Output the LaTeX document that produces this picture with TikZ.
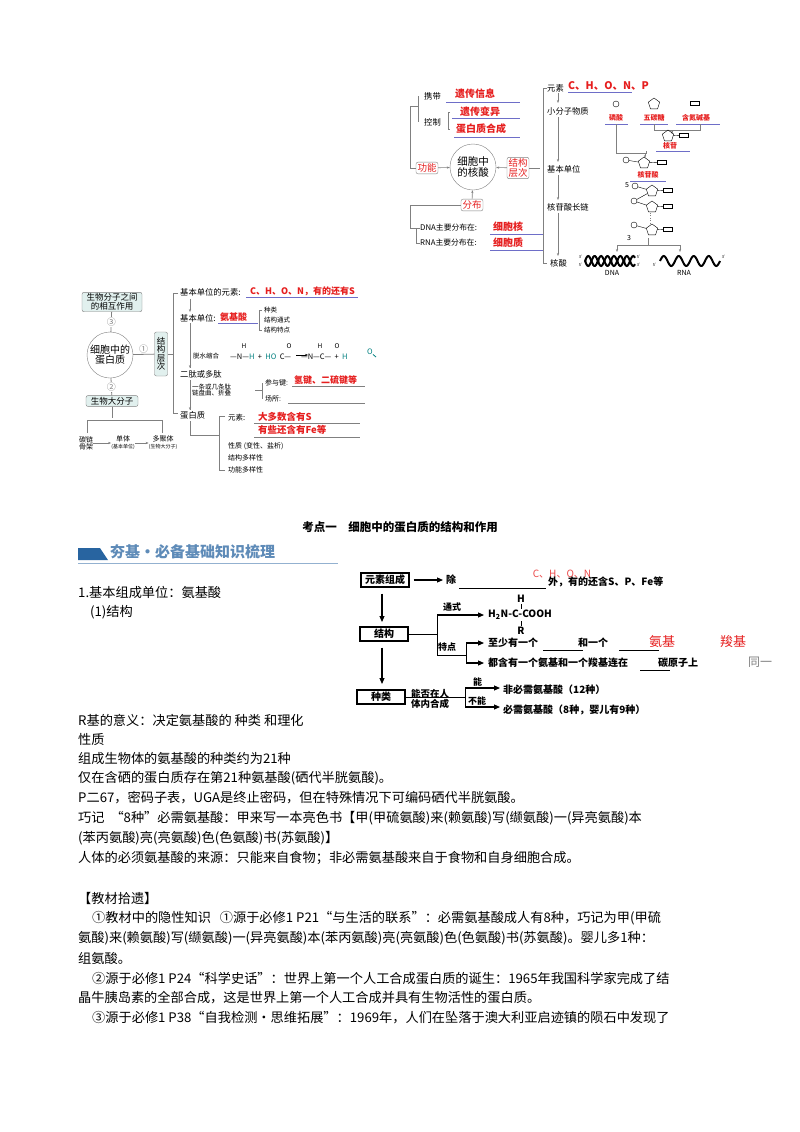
\documentclass[tikz,border=0pt]{standalone}
\usepackage{fontspec}
\setmainfont{Noto Sans CJK SC}
\usetikzlibrary{shapes.geometric,arrows.meta}
\definecolor{ans}{RGB}{230,30,30}
\definecolor{uline}{RGB}{110,110,200}
\definecolor{boxfill}{RGB}{225,240,238}
\definecolor{hdr}{RGB}{40,100,160}
\newcommand{\fs}[1]{\fontsize{#1}{#1}\selectfont}
\tikzset{
 t/.style={inner sep=0pt,anchor=west,font=\fs{8.3}},
 red/.style={inner sep=0pt,anchor=west,text=ans,font=\fs{9}\bfseries},
 body/.style={inner sep=0pt,anchor=west,font=\fs{13.2}},
 flow/.style={inner sep=0pt,anchor=west,font=\fs{10}\bfseries},
 fbox/.style={draw,line width=1.2pt,minimum width=48,minimum height=14,inner sep=0pt,font=\fs{10}\bfseries},
 rbox/.style={draw=gray,rounded corners=2pt,text=ans,inner sep=1.5pt,font=\fs{9.5}},
 gbox/.style={draw=gray,rounded corners=2pt,fill=boxfill,inner sep=1.5pt,font=\fs{8.5},align=center},
 ul/.style={uline,line width=0.6pt},
 gl/.style={gray,line width=0.6pt},
 ar/.style={gray,line width=0.6pt,-{Stealth[length=3pt]}},
 far/.style={line width=1.1pt,-{Triangle[length=6pt,width=5pt]}},
 ph/.style={circle,draw,inner sep=0pt,minimum size=6pt},
 sug/.style={regular polygon,regular polygon sides=5,draw,inner sep=0pt,minimum size=12pt},
 bas/.style={rectangle,draw,inner sep=0pt,minimum width=9pt,minimum height=4.5pt},
 ml/.style={text=ans,font=\fs{7}\bfseries,anchor=center,inner sep=0pt}
}
\begin{document}
\begin{tikzpicture}[x=1pt,y=-1pt]
\useasboundingbox[fill=white] (0,0) rectangle (800,1132);
%% ===== Top-right nucleic acid diagram =====
\node[circle,draw=gray,minimum size=46pt,inner sep=0pt,align=center,font=\fs{10.5}] (na) at (473,167) {细胞中\\的核酸};
\node[rbox] (gn) at (427,168) {功能};
\node[rbox,align=center] (jg) at (518,168) {结构\\层次};
\node[rbox] (fb) at (472,205) {分布};
\draw[ar] (gn) -- (na);
\draw[ar] (jg) -- (na);
\draw[ar] (fb) -- (na);
\draw[gl] (gn.west) -- (410,168) -- (410,106) -- (418,106);
\draw[gl] (418,96) -- (418,122);
\node[t] (xd) at (424,96) {携带};
\node[t] (kz) at (424,122) {控制};
\node[red,font=\fs{10}\bfseries] (a1) at (455,94) {遗传信息};
\draw[ul] (446,102) -- (520,102);
\draw[gl] (450,112) -- (448,112) -- (448,129) -- (450,129);
\node[red,font=\fs{10}\bfseries] (a2) at (460,112) {遗传变异};
\draw[ul] (452,118) -- (520,118);
\node[red,font=\fs{10}\bfseries] (a3) at (456,129) {蛋白质合成};
\draw[ul] (454,137) -- (520,137);
\draw[gl] (fb.west) -- (410,205) -- (410,228) ;
\node[t,font=\fs{7.8}] (dna) at (420,228) {DNA主要分布在:};
\node[t,font=\fs{7.8}] (rna) at (420,243) {RNA主要分布在:};
\draw[gl] (416,228) -- (416,243);
\draw[gl] (410,228) -- (dna.west); \draw[gl] (416,243) -- (rna.west);
\node[red,font=\fs{10}\bfseries] (a4) at (493,227) {细胞核};
\draw[ul] (490,234) -- (544,234);
\node[red,font=\fs{10}\bfseries] (a5) at (493,243) {细胞质};
\draw[ul] (490,250) -- (544,250);
% right column
\draw[gl] (jg.east) -- (540,168);
\draw[gl] (547,88) -- (543,88) -- (543,263) -- (547,263);
\node[t] (ys) at (547,88) {元素};
\node[red,font=\fs{10.5}\bfseries] (a6) at (568,86) {C、H、O、N、P};
\draw[ul] (568,92) -- (632,92);
\node[t] (xf) at (547,111) {小分子物质};
\node[t] (jb) at (547,169) {基本单位};
\node[t] (hl) at (547,207) {核苷酸长链};
\node[t] (hs) at (550,263) {核酸};
\draw[ar] (558,93) -- (558,103);
\draw[ar] (558,117) -- (558,162);
\draw[ar] (558,175) -- (558,200);
\draw[ar] (558,213) -- (558,256);
% molecules
\node[ph] (p1) at (616,104) {};
\node[sug] (s1) at (654,104) {};
\node[bas] (b1) at (695,103) {};
\node[ml] (l1) at (616,118) {磷酸};
\node[ml] (l2) at (654,118) {五碳糖};
\node[ml] (l3) at (696,118) {含氮碱基};
\draw[ul] (605,124) -- (628,124); \draw[ul] (640,124) -- (668,124); \draw[ul] (676,124) -- (720,124);
\draw[gl] (654,124) -- (654,130) -- (700,130) -- (700,124);
\draw[ar] (672,130) -- (672,134);
\node[sug] (s2) at (668,136) {}; \node[bas] (b2) at (684,135) {}; \draw (s2) -- (b2);
\node[ml] (l4) at (670,146) {核苷};
\draw[ul] (656,151) -- (690,151);
\draw[gl] (616,124) -- (616,153) -- (646,153) -- (646,151);
\draw[ar] (645,153) -- (645,158);
\node[ph] (p3) at (626,160) {}; \node[sug] (s3) at (644,163) {}; \node[bas] (b3) at (662,162) {};
\draw (p3) -- (s3) -- (b3);
\node[ml] (l5) at (648,175) {核苷酸};
\draw[ul] (630,181) -- (666,181);
\node[font=\fs{7},inner sep=0] (five) at (627,185) {5};
\node[ph] (p4) at (635,186) {}; \node[sug] (s4) at (652,191) {}; \node[bas] (b4) at (668,190) {};
\draw (p4) -- (s4) -- (b4);
\node[ph] (p5) at (634,201) {}; \node[sug] (s5) at (652,207) {}; \node[bas] (b5) at (668,206) {};
\draw (s4) -- (p5) -- (s5) -- (b5);
\draw[gray,dotted] (650,213) -- (650,225);
\node[ph] (p6) at (634,225) {}; \node[sug] (s6) at (652,230) {}; \node[bas] (b6) at (668,229) {};
\draw (p6) -- (s6) -- (b6);
\node[font=\fs{7},inner sep=0] (three) at (629,238) {3};
\draw[gl] (648,238) -- (648,245);
\draw[gl] (617,245) -- (680,245);
\draw[ar] (617,245) -- (617,252);
\draw[ar] (680,245) -- (680,252);
% DNA helix
\foreach \i in {0,...,6}{\draw[gray!70,line width=0.8pt] (586+\i*6.5,256) -- (586+\i*6.5,266);}
\draw[line width=2pt,domain=0:50,samples=60] plot ({585+\x},{261+5*sin(\x*28)});
\draw[line width=2pt,domain=0:50,samples=60] plot ({585+\x},{261-5*sin(\x*28)});
\node[font=\fs{7},inner sep=0] (dnal) at (612,273) {DNA};
\node[font=\fs{4},inner sep=0] (d1) at (582,257) {3'}; \node[font=\fs{4},inner sep=0] (d2) at (582,265) {5'};
\node[font=\fs{4},inner sep=0] (d3) at (640,257) {5'}; \node[font=\fs{4},inner sep=0] (d4) at (640,265) {3'};
\draw[line width=2pt,domain=0:60,samples=80] plot ({660+\x},{261-5*sin(\x*24)});
\node[font=\fs{7},inner sep=0] (rnal) at (684,273) {RNA};
\node[font=\fs{4},inner sep=0] (r1) at (656,265) {5'}; \node[font=\fs{4},inner sep=0] (r2) at (725,257) {3'};
%% ===== Left protein diagram =====
\node[gbox,minimum width=60pt] (sw) at (112,302) {生物分子之间\\的相互作用};
\node[circle,draw=gray,minimum size=46pt,inner sep=0pt,align=center,font=\fs{10}] (pr) at (110,355) {细胞中的\\蛋白质};
\node[gbox,minimum width=52pt] (dfz) at (112,401) {生物大分子};
\node[gbox,minimum height=44pt,text width=9pt,inner sep=2pt] (jc) at (161,354) {结\\构\\层\\次};
\draw[gray,line width=0.8pt] (sw) -- node[fill=white,font=\fs{9},inner sep=1pt]{③} (pr);
\draw[gray,line width=0.8pt] (pr) -- node[fill=white,font=\fs{9},inner sep=1pt]{②} (dfz);
\draw[gray,line width=0.8pt] (pr) -- node[above,font=\fs{9},inner sep=1pt]{①} (jc);
\draw[gl] (dfz.south) -- (112,418);
\draw[gl] (87,433) -- (87,420) -- (162,420) -- (162,433);
\node[font=\fs{7},align=center,inner sep=0] (tl) at (86,443) {碳链\\骨架};
\node[font=\fs{7},align=center,inner sep=0] (dt) at (123,443) {单体\\{\fs{5}(基本单位)}};
\node[font=\fs{7},align=center,inner sep=0] (dj) at (163,443) {多聚体\\{\fs{5}(生物大分子)}};
\draw[ar] (tl) -- (dt); \draw[ar] (dt) -- (dj);
\draw[gl] (jc.east) -- (173,354);
\draw[gl] (178,293) -- (173,293) -- (173,413) -- (178,413);
\node[t] (j1) at (180,292) {基本单位的元素:};
\node[red] (j1a) at (250,291) {C、H、O、N，有的还有S};
\draw[ul] (246,297) -- (358,297);
\node[t] (j2) at (180,318) {基本单位:};
\node[red] (j2a) at (220,317) {氨基酸};
\draw[ul] (218,323) -- (258,323);
\draw[gl] (262,310) -- (259,310) -- (259,330) -- (262,330);
\node[t,font=\fs{6.5}] (k1) at (264,310) {种类};
\node[t,font=\fs{6.5}] (k2) at (264,320) {结构通式};
\node[t,font=\fs{6.5}] (k3) at (264,330) {结构特点};
\draw[ar] (190,299) -- (190,312);
\draw[gl] (190,323) -- (190,368);
\draw[ar] (190,360) -- (190,368);
\node[t,font=\fs{6.5}] (ts) at (193,356) {脱水缩合};
\node[font=\fs{7.5},inner sep=0,anchor=west] (c1) at (230,357) {—N—{\color{teal}H}\ \ +\ \ {\color{teal}HO}\ \ C—\ \ \ \ \ \ —N—C—\ \ +\ \ {\color{teal}H}};
\node[font=\fs{6.5},inner sep=0] (c2) at (244,346) {H};
\node[font=\fs{6.5},inner sep=0] (c3) at (289,346) {O};
\node[font=\fs{6.5},inner sep=0] (c4) at (320,346) {H};
\node[font=\fs{6.5},inner sep=0] (c5) at (337,346) {O};
\draw[-{Stealth[length=3pt]}] (296,355) -- (308,355);
\node[font=\fs{7.5},inner sep=0,text=teal] (c6) at (370,352) {O};
\draw[teal,line width=0.8pt] (c6) -- (376,357);
\draw[gl] (190,380) -- (190,410); \draw[ar] (190,404) -- (190,410);
\node[t] (ed) at (180,374) {二肽或多肽};
\node[t,font=\fs{6.5},align=left] (yt) at (192,390) {一条或几条肽\\链盘曲、折叠};
\draw[gl] (255,390) -- (262,390) ; \draw[gl] (262,383) -- (262,399);
\node[t,font=\fs{7}] (cy) at (265,383) {参与键:};
\node[red] (cya) at (294,380) {氢键、二硫键等};
\draw[gl] (292,386) -- (365,386);
\node[t,font=\fs{7}] (cs) at (265,399) {场所:};
\draw[gl] (288,403) -- (365,403);
\node[t] (dbz) at (180,415) {蛋白质};
\draw[gl] (190,421) -- (190,435) -- (220,435);
\draw[gl] (225,416) -- (219,416) -- (219,470) -- (225,470);
\node[t,font=\fs{7.5}] (ys2) at (228,418) {元素:};
\node[red,font=\fs{9.5}\bfseries] (ysa) at (258,417) {大多数含有S};
\draw[gl] (254,423) -- (360,423);
\node[red,font=\fs{9.5}\bfseries] (ysb) at (258,430) {有些还含有Fe等};
\draw[gl] (254,437) -- (360,437);
\node[t,font=\fs{7}] (xz) at (228,446) {性质 (变性、盐析)};
\node[t,font=\fs{7}] (jd) at (228,458) {结构多样性};
\node[t,font=\fs{7}] (gd) at (228,470) {功能多样性};
%% ===== Heading =====
\node[inner sep=0,font=\fs{11.5}\bfseries] (title) at (400,527) {考点一\quad 细胞中的蛋白质的结构和作用};
\fill[hdr] (78,548) -- (100,548) -- (108,560) -- (78,560) -- cycle;
\node[inner sep=0,anchor=west,text=hdr!75,font=\fs{15}\bfseries] (hd) at (110,552) {夯基·必备基础知识梳理};
\draw[hdr!50,line width=0.8pt] (78,563) -- (338,563);
%% ===== Middle flowchart =====
\node[fbox] (ysz) at (385,580) {元素组成};
\node[fbox] (jgb) at (384,634) {结构};
\node[fbox] (zl) at (381,697) {种类};
\draw[far] (ysz.east) ++(4,0) -- (443,580);
\node[flow] (chu) at (446,580) {除};
\draw[line width=0.8pt] (459,588) -- (546,588);
\node[inner sep=0,text=ans!80,font=\fs{10}] (chon) at (562,574) {C、H、O、N};
\node[flow] (wai) at (548,582) {外，有的还含S、P、Fe等};
\draw[far] (ysz.south) ++(-3,6) -- (382,622);
\draw[far] (jgb.south) ++(-2,6) -- (382,684);
\draw[line width=1pt] (jgb.east) -- (437,634);
\draw[line width=1pt] (437,615) -- (437,655) -- (466,655);
\draw[far] (437,615) -- (484,615);
\node[flow,font=\fs{9}\bfseries] (tsl) at (443,607) {通式};
\node[flow] (gs) at (488,615) {H\textsubscript{2}N-C-COOH};
\node[flow,anchor=center] (gh) at (521,599) {H};
\node[flow,anchor=center] (gr) at (521,631) {R};
\draw[line width=0.8pt] (521,604) -- (521,609); \draw[line width=0.8pt] (521,621) -- (521,626);
\node[flow,font=\fs{9}\bfseries] (tdl) at (438,647) {特点};
\draw[line width=1pt] (466,643) -- (466,663);
\draw[far] (466,643) -- (484,643);
\draw[far] (466,663) -- (484,663);
\node[flow] (zs) at (488,643) {至少有一个\hspace{40pt}和一个\hspace{40pt}};
\draw[line width=0.8pt] (543,650) -- (583,650); \draw[line width=0.8pt] (619,650) -- (659,650);
\node[inner sep=0,text=ans,font=\fs{13}] (aj) at (662,642) {氨基};
\node[inner sep=0,text=ans,font=\fs{13}] (sj) at (733,642) {羧基};
\node[flow] (dh) at (488,663) {都含有一个氨基和一个羧基连在\hspace{30pt}碳原子上};
\draw[line width=0.8pt] (640,670) -- (670,670);
\node[inner sep=0,text=gray,font=\fs{12}] (ty) at (760,662) {同一};
\node[flow,font=\fs{9.5}\bfseries,align=left,anchor=west] (nf) at (411,699) {能否在人\\体内合成};
\draw[line width=1pt] (zl.east) -- (465,697);
\draw[line width=1pt] (465,688) -- (465,707);
\draw[far] (465,688) -- (500,688);
\draw[far] (465,707) -- (500,707);
\node[flow,font=\fs{9}\bfseries] (n1) at (473,682) {能};
\node[flow,font=\fs{9}\bfseries] (n2) at (468,701) {不能};
\node[flow] (fb1) at (503,690) {非必需氨基酸（12种）};
\node[flow] (fb2) at (503,710) {必需氨基酸（8种，婴儿有9种）};
%% ===== Body text =====
\node[body] (b1) at (78,592) {1.基本组成单位：氨基酸};
\node[body] (b2) at (90,612) {(1)结构};
\node[body] (b3) at (78,720) {R基的意义：决定氨基酸的 种类 和理化};
\node[body] (b4) at (78,739) {性质};
\node[body] (b5) at (78,758) {组成生物体的氨基酸的种类约为21种};
\node[body] (b6) at (78,778) {仅在含硒的蛋白质存在第21种氨基酸(硒代半胱氨酸)。};
\node[body] (b7) at (78,798) {P二67，密码子表，UGA是终止密码，但在特殊情况下可编码硒代半胱氨酸。};
\node[body] (b8) at (78,818) {巧记\ \ “8种”必需氨基酸：甲来写一本亮色书【甲(甲硫氨酸)来(赖氨酸)写(缬氨酸)一(异亮氨酸)本};
\node[body] (b9) at (78,838) {(苯丙氨酸)亮(亮氨酸)色(色氨酸)书(苏氨酸)】};
\node[body] (b10) at (78,858) {人体的必须氨基酸的来源：只能来自食物；非必需氨基酸来自于食物和自身细胞合成。};
\node[body] (b11) at (78,898) {【教材拾遗】};
\node[body] (b12) at (92,918) {①教材中的隐性知识\ \ \ ①源于必修1 P21“与生活的联系”：必需氨基酸成人有8种，巧记为甲(甲硫};
\node[body] (b13) at (78,938) {氨酸)来(赖氨酸)写(缬氨酸)一(异亮氨酸)本(苯丙氨酸)亮(亮氨酸)色(色氨酸)书(苏氨酸)。婴儿多1种：};
\node[body] (b14) at (78,958) {组氨酸。};
\node[body] (b15) at (92,978) {②源于必修1 P24“科学史话”：世界上第一个人工合成蛋白质的诞生：1965年我国科学家完成了结};
\node[body] (b16) at (78,998) {晶牛胰岛素的全部合成，这是世界上第一个人工合成并具有生物活性的蛋白质。};
\node[body] (b17) at (92,1018) {③源于必修1 P38“自我检测·思维拓展”：1969年，人们在坠落于澳大利亚启迹镇的陨石中发现了};
\end{tikzpicture}
\end{document}
